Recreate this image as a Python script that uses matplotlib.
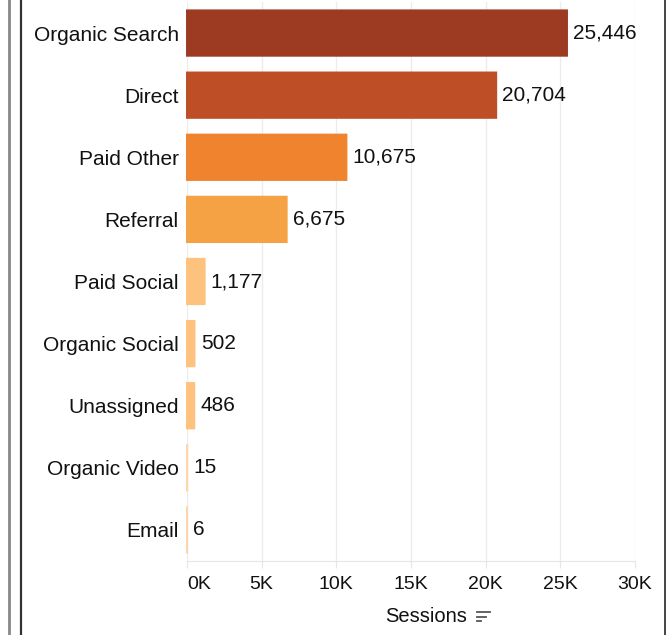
import matplotlib
matplotlib.use('Agg')
import matplotlib.pyplot as plt
from matplotlib.lines import Line2D
from matplotlib.ticker import FuncFormatter

channels = ['Organic Search', 'Direct', 'Paid Other', 'Referral', 'Paid Social',
            'Organic Social', 'Unassigned', 'Organic Video', 'Email']
sessions = [25446, 20704, 10675, 6675, 1177, 502, 486, 15, 6]
colors = ['#9d3a22', '#bd4e25', '#ef832e', '#f4a243', '#fdc27e',
          '#fdc27e', '#fdc27e', '#fdd6ad', '#fdd6ad']
x_ticks = [0, 5000, 10000, 15000, 20000, 25000, 30000]

plt.rcParams['font.family'] = ['Liberation Sans', 'DejaVu Sans']

W, H = 668, 635
fig = plt.figure(figsize=(W / 100, H / 100), dpi=100)
ax = fig.add_axes([187 / W, 1 - 561 / H, (635 - 187) / W, (561 - 2) / H])

y = list(range(len(channels)))
bars = ax.barh(y, sessions, height=0.73, color=colors, edgecolor=colors,
               linewidth=1.4, zorder=3)
for b in bars:
    b.set_clip_on(False)
    b.set_snap(False)

for yi, v in zip(y, sessions):
    ax.annotate(f'{v:,}', (v, yi), xytext=(4.5, 0), textcoords='offset points',
                va='center', ha='left', fontsize=15, color='#111111')

ax.set_xlim(0, 30000)
ax.set_ylim(len(channels) - 0.5, -0.5)
ax.set_yticks(y)
ax.set_yticklabels(channels, fontsize=15, color='#111111')
ax.set_xticks(x_ticks)
ax.xaxis.set_major_formatter(FuncFormatter(lambda v, p: f'{int(v / 1000)}K'))
for lbl in ax.get_xticklabels():
    lbl.set_fontsize(14)
    lbl.set_color('#111111')
ax.get_xticklabels()[0].set_ha('left')

ax.tick_params(axis='y', length=0, pad=6)
ax.tick_params(axis='x', length=5, color='#e6e6e6', pad=6)
ax.grid(axis='x', color='#ececec', linewidth=1, zorder=0)
ax.set_axisbelow(True)
for s in ['top', 'right', 'left']:
    ax.spines[s].set_visible(False)
ax.spines['bottom'].set_color('#e6e6e6')

ax.set_xlabel('Sessions', fontsize=14.5, color='#111111')
ax.xaxis.set_label_coords(0.533, -0.1)
ax.xaxis.label.set_va('center')

# sort icon next to the axis title
for i, (x0, x1) in enumerate([(477, 490), (477, 486), (477, 481)]):
    yy = 1 - (612 + i * 4.5) / H
    fig.add_artist(Line2D([x0 / W, x1 / W], [yy, yy], color='#555555', linewidth=1.3))

# screenshot frame lines
fig.add_artist(Line2D([8.5 / W, 8.5 / W], [0, 1], color='#888888', linewidth=2))
fig.add_artist(Line2D([21 / W, 21 / W], [0, 1], color='#333333', linewidth=1.6))
fig.add_artist(Line2D([665 / W, 665 / W], [0, 1], color='#444444', linewidth=1.4))

fig.savefig('out.png', dpi=100)
